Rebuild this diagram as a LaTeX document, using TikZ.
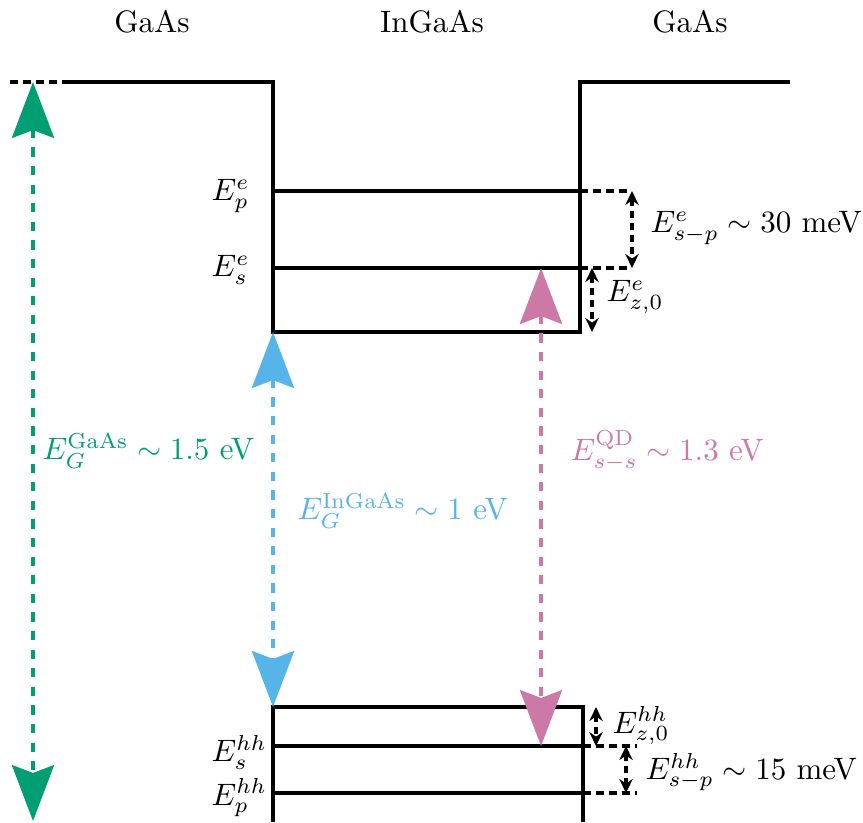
\documentclass[tikz,border=0pt]{standalone}
\usetikzlibrary{arrows.meta}
\definecolor{cgreen}{HTML}{009E73}
\definecolor{cblue}{HTML}{56B4E9}
\definecolor{cpink}{HTML}{CC79A7}
\begin{document}
\begin{tikzpicture}[x=0.3226pt,y=-0.3226pt,
  band/.style={line width=1.1pt},
  ext/.style={line width=1.1pt,dash pattern=on 2.6pt off 1.6pt},
  small/.style={line width=1.1pt,dash pattern=on 2.2pt off 1.6pt,{Stealth[length=4.5pt,width=4.3pt]}-{Stealth[length=4.5pt,width=4.3pt]}},
  gap/.style={line width=1.5pt,dashed,{Stealth[length=18pt,width=13.5pt,inset=2.5pt]}-{Stealth[length=18pt,width=13.5pt,inset=2.5pt]}},
  lbl/.style={inner sep=0pt,anchor=west}]
\useasboundingbox (0,0) rectangle (863,822);
% headings
\node (h1) at (152,22) {GaAs};
\node (h2) at (432,22) {InGaAs};
\node (h3) at (690,22) {GaAs};
% conduction band
\coordinate (cl0) at (10,82);
\coordinate (cl1) at (63,82);
\coordinate (c1) at (273,82);
\coordinate (c2) at (273,332);
\coordinate (c3) at (580,332);
\coordinate (c4) at (580,82);
\coordinate (c5) at (790,82);
\draw[ext] (cl0) -- (cl1);
\draw[band] (cl1) -- (c1) -- (c2) -- (c3) -- (c4) -- (c5);
% electron levels
\coordinate (ep0) at (273,191); \coordinate (ep1) at (580,191); \coordinate (ep2) at (632,191);
\coordinate (es0) at (273,268); \coordinate (es1) at (580,268); \coordinate (es2) at (632,268);
\draw[band] (ep0) -- (ep1); \draw[ext] (ep1) -- (ep2);
\draw[band] (es0) -- (es1); \draw[ext] (es1) -- (es2);
\coordinate (zc0) at (592,268); \coordinate (zc1) at (592,332);
\draw[small] (ep2) -- (es2);
\draw[small] (zc0) -- (zc1);
\node[lbl] (Ep) at (211,196) {$E_p^e$};
\node[lbl] (Es) at (211,270) {$E_s^e$};
\node[lbl] (Esp) at (650,228) {$E^e_{s-p}\sim 30$ meV};
\node[lbl] (Ez) at (606,297) {$E^e_{z,0}$};
% valence band
\coordinate (v0) at (273,822);
\coordinate (v1) at (273,707);
\coordinate (v2) at (583,707);
\coordinate (v3) at (583,822);
\draw[band] (v0) -- (v1) -- (v2) -- (v3);
\coordinate (hs0) at (273,746); \coordinate (hs1) at (583,746); \coordinate (hs2) at (637,746);
\coordinate (hp0) at (273,793); \coordinate (hp1) at (583,793); \coordinate (hp2) at (637,793);
\draw[band] (hs0) -- (hs1); \draw[ext] (hs1) -- (hs2);
\draw[band] (hp0) -- (hp1); \draw[ext] (hp1) -- (hp2);
\coordinate (zv0) at (596,707); \coordinate (zv1) at (596,746);
\coordinate (sv0) at (626,746); \coordinate (sv1) at (626,793);
\draw[small] (zv0) -- (zv1);
\draw[small] (sv0) -- (sv1);
\node[lbl] (Hs) at (211,752) {$E_s^{hh}$};
\node[lbl] (Hp) at (211,798) {$E_p^{hh}$};
\node[lbl] (Hz) at (612,726) {$E^{hh}_{z,0}$};
\node[lbl] (Hsp) at (645,772) {$E^{hh}_{s-p}\sim 15$ meV};
% gaps
\coordinate (g0) at (33,82); \coordinate (g1) at (33,821);
\draw[gap,cgreen] (g0) -- (g1);
\draw[gap,cblue] (c2) -- (v1);
\coordinate (q0) at (541,268); \coordinate (q1) at (541,746);
\draw[gap,cpink] (q0) -- (q1);
\node[lbl,text=cgreen] (LG) at (42,451) {$E_G^{\mathrm{GaAs}}\sim 1.5$ eV};
\node[lbl,text=cblue] (LB) at (297,511) {$E_G^{\mathrm{InGaAs}}\sim 1$ eV};
\node[lbl,text=cpink] (LP) at (570,451) {$E^{\mathrm{QD}}_{s-s}\sim 1.3$ eV};
\end{tikzpicture}
\end{document}
